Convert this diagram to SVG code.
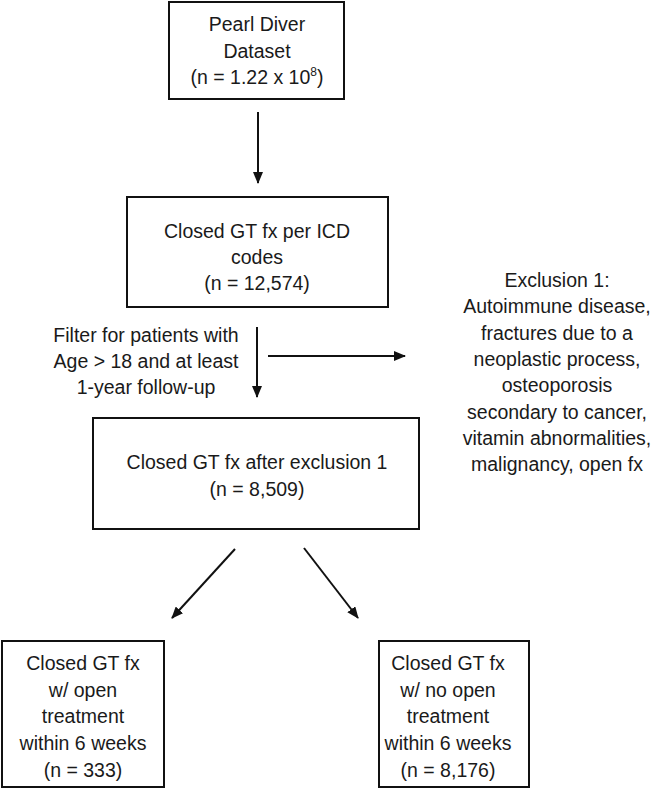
<svg xmlns="http://www.w3.org/2000/svg" width="660" height="789" viewBox="0 0 660 789">
<defs>
<marker id="ah" viewBox="0 0 12 10" refX="11" refY="5" markerWidth="12" markerHeight="10" markerUnits="userSpaceOnUse" orient="auto">
<path d="M0,0 L12,5 L0,10 z" fill="#111"/>
</marker>
<style>
.box{fill:#fff;stroke:#111;stroke-width:2}
.t{font-family:"Liberation Sans",Arial,sans-serif;font-size:19.5px;fill:#1a1a1a;text-anchor:middle}
.c{stroke:#111;stroke-width:2;fill:none;marker-end:url(#ah)}
</style>
</defs>
<rect width="660" height="789" fill="#fff"/>
<g id="connectors">
<line class="c" x1="258" y1="112" x2="258" y2="183"/>
<line class="c" x1="257" y1="327" x2="257" y2="397"/>
<line class="c" x1="268" y1="356" x2="405" y2="356"/>
<line class="c" x1="235" y1="549" x2="172" y2="618"/>
<line class="c" x1="304" y1="548" x2="358" y2="618"/>
</g>
<g id="dataset">
<rect class="box" x="169" y="2" width="175" height="97"/>
<text class="t" x="257" y="31">Pearl Diver</text>
<text class="t" x="257" y="58">Dataset</text>
<text class="t" x="257" y="84">(n = 1.22 x 10<tspan dy="-8" font-size="12">8</tspan><tspan dy="8">)</tspan></text>
</g>
<g id="icd">
<rect class="box" x="127" y="197" width="261" height="110"/>
<text class="t" x="257" y="238">Closed GT fx per ICD</text>
<text class="t" x="257" y="264">codes</text>
<text class="t" x="257" y="290">(n = 12,574)</text>
</g>
<g id="filter">
<text class="t" x="146" y="342">Filter for patients with</text>
<text class="t" x="146" y="368">Age &gt; 18 and at least</text>
<text class="t" x="146" y="394">1-year follow-up</text>
</g>
<g id="exclusion">
<text class="t" x="557" y="287">Exclusion 1:</text>
<text class="t" x="557" y="313">Autoimmune disease,</text>
<text class="t" x="557" y="340">fractures due to a</text>
<text class="t" x="557" y="366">neoplastic process,</text>
<text class="t" x="557" y="392">osteoporosis</text>
<text class="t" x="557" y="419">secondary to cancer,</text>
<text class="t" x="557" y="445">vitamin abnormalities,</text>
<text class="t" x="557" y="471">malignancy, open fx</text>
</g>
<g id="after-exclusion">
<rect class="box" x="93" y="418" width="326" height="111"/>
<text class="t" x="257" y="469">Closed GT fx after exclusion 1</text>
<text class="t" x="257" y="496">(n = 8,509)</text>
</g>
<g id="open">
<rect class="box" x="2" y="641" width="162" height="146"/>
<text class="t" x="83" y="670">Closed GT fx</text>
<text class="t" x="83" y="697">w/ open</text>
<text class="t" x="83" y="723">treatment</text>
<text class="t" x="83" y="750">within 6 weeks</text>
<text class="t" x="83" y="777">(n = 333)</text>
</g>
<g id="no-open">
<rect class="box" x="379" y="641" width="150" height="146"/>
<text class="t" x="448" y="670">Closed GT fx</text>
<text class="t" x="448" y="697">w/ no open</text>
<text class="t" x="448" y="723">treatment</text>
<text class="t" x="448" y="750">within 6 weeks</text>
<text class="t" x="448" y="777">(n = 8,176)</text>
</g>
</svg>
